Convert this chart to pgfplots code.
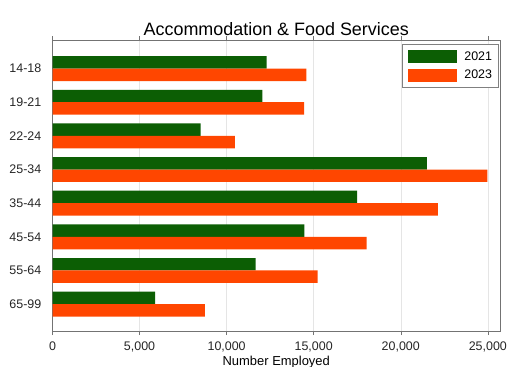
\documentclass[border=0pt]{standalone}
\usepackage{pgfplots}
\pgfplotsset{compat=1.18}
\usepackage{fontspec}
\setmainfont{Liberation Sans}
\definecolor{g21}{RGB}{12,94,4}
\definecolor{o23}{RGB}{255,70,0}
\begin{document}
\begin{tikzpicture}
\begin{axis}[
  scale only axis, width=447.5bp, height=291bp,
  xmin=0, xmax=25700,
  ymin=-0.85, ymax=7.8, y dir=reverse,
  ytick={0,...,7},
  yticklabels={14-18,19-21,22-24,25-34,35-44,45-54,55-64,65-99},
  xtick={0,5000,...,25000},
  scaled x ticks=false,
  /pgf/number format/1000 sep={,},
  /pgf/number format/assume math mode=true,
  xbar, bar width=0.37,
  xmajorgrids, major grid style={gray!20, line width=0.4pt},
  axis line style={black!55, line width=0.6pt},
  tick align=outside, ytick style={draw=none}, xtick style={black!55, line width=0.5pt},
  major tick length=4bp,
  tick label style={font=\fontsize{12.5}{12.5}\selectfont, text=black!85},
  yticklabel style={anchor=east, inner sep=0pt, xshift=-7bp},
  xticklabel style={anchor=base, inner sep=0pt, yshift=-15bp},
  title={Accommodation \& Food Services},
  every axis title shift=0pt,
  title style={font=\fontsize{18}{18}\selectfont, at={(0.5,1)}, anchor=base, yshift=5bp, inner sep=0pt},
  xlabel={Number Employed},
  xlabel style={font=\fontsize{13}{13}\selectfont, at={(0.5,0)}, anchor=base, yshift=-34.5bp, inner sep=0pt},
  legend entries={2021\hspace{6bp},2023\hspace{6bp}},
  legend cell align=left,
  legend style={at={(1,1)}, anchor=north east, xshift=-2bp, yshift=-4bp,
    draw=black!50, line width=0.5pt, font=\fontsize{12.5}{12.5}\selectfont,
    inner xsep=5.7bp, inner ysep=5.8bp, row sep=5.6bp,
    nodes={inner sep=0pt},
    /tikz/every odd column/.append style={column sep=7bp}},
  legend image code/.code={\fill[#1] (0bp,-6.5bp) rectangle (49bp,6.5bp);},
]
\addplot[fill=g21, draw=none, bar shift=-0.185] coordinates {
  (12300,0) (12050,1) (8500,2) (21500,3) (17500,4) (14470,5) (11660,6) (5900,7)};
\addplot[fill=o23, draw=none, bar shift=0.185] coordinates {
  (14580,0) (14450,1) (10470,2) (24970,3) (22130,4) (18040,5) (15220,6) (8750,7)};
\end{axis}
\pgfresetboundingbox
\useasboundingbox ([xshift=-52.5bp,yshift=-36bp]current axis.south west) rectangle ([xshift=8bp,yshift=40bp]current axis.north east);
\end{tikzpicture}
\end{document}
